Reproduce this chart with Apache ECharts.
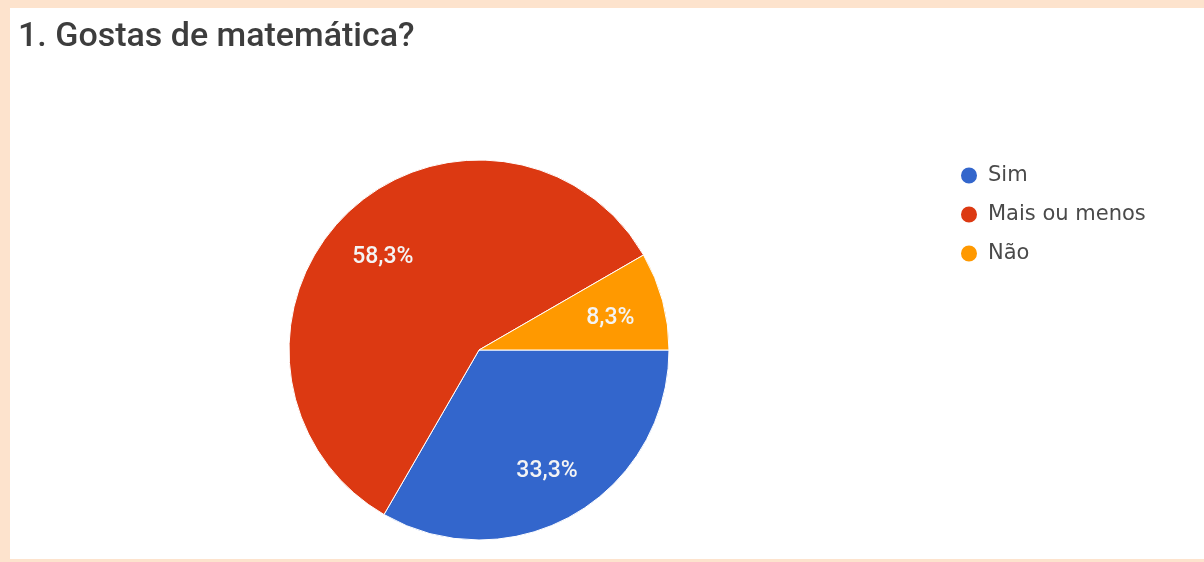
<!DOCTYPE html>
<html>
<head>
<meta charset="utf-8">
<script src="https://cdn.jsdelivr.net/npm/echarts@6/dist/echarts.min.js"></script>
<style>
html,body{margin:0;padding:0;width:1204px;height:562px;background:#fde3cd;overflow:hidden;}
#chart{position:absolute;left:10px;top:8px;width:1194px;height:551px;background:#ffffff;}
</style>
</head>
<body>
<div id="chart"></div>
<script>
const title = '1. Gostas de matemática?';
const categories = ['Sim', 'Mais ou menos', 'Não'];
const counts = [4, 7, 1];
const colors = ['#3366cc', '#dc3912', '#ff9900'];

const total = counts.reduce((a, b) => a + b, 0);
const data = categories.map((name, i) => ({ name: name, value: counts[i] }));
const fmt = p => (p.value / total * 100).toFixed(1).replace('.', ',') + '%';

const chart = echarts.init(document.getElementById('chart'));
chart.setOption({
  animation: false,
  color: colors,
  title: {
    text: title,
    left: 3, top: 7,
    textStyle: { fontFamily: 'Roboto', fontSize: 34, fontWeight: 500, color: '#3d3d3d' }
  },
  legend: {
    orient: 'vertical',
    left: 944, top: 152,
    itemGap: 18,
    itemWidth: 18, itemHeight: 18,
    icon: 'circle',
    data: categories,
    textStyle: { fontFamily: 'DejaVu Sans', fontSize: 21, color: '#4a4a4a', padding: [0, 0, 0, 5] }
  },
  series: [
    {
      type: 'pie',
      center: [469, 342],
      radius: [0, 190],
      startAngle: 0,
      clockwise: true,
      data: data,
      label: { show: false },
      labelLine: { show: false },
      itemStyle: { borderColor: '#ffffff', borderWidth: 1 },
      silent: true
    },
    {
      type: 'pie',
      center: [469, 345],
      radius: [76, 190],
      startAngle: 0,
      clockwise: true,
      data: data,
      legendHoverLink: false,
      silent: true,
      itemStyle: { color: 'rgba(0,0,0,0)', borderWidth: 0 },
      label: {
        show: true, position: 'inside', formatter: fmt,
        fontFamily: 'Roboto', fontSize: 23, fontWeight: 500, color: '#f4f4f4'
      },
      labelLine: { show: false }
    }
  ]
});
</script>
</body>
</html>
